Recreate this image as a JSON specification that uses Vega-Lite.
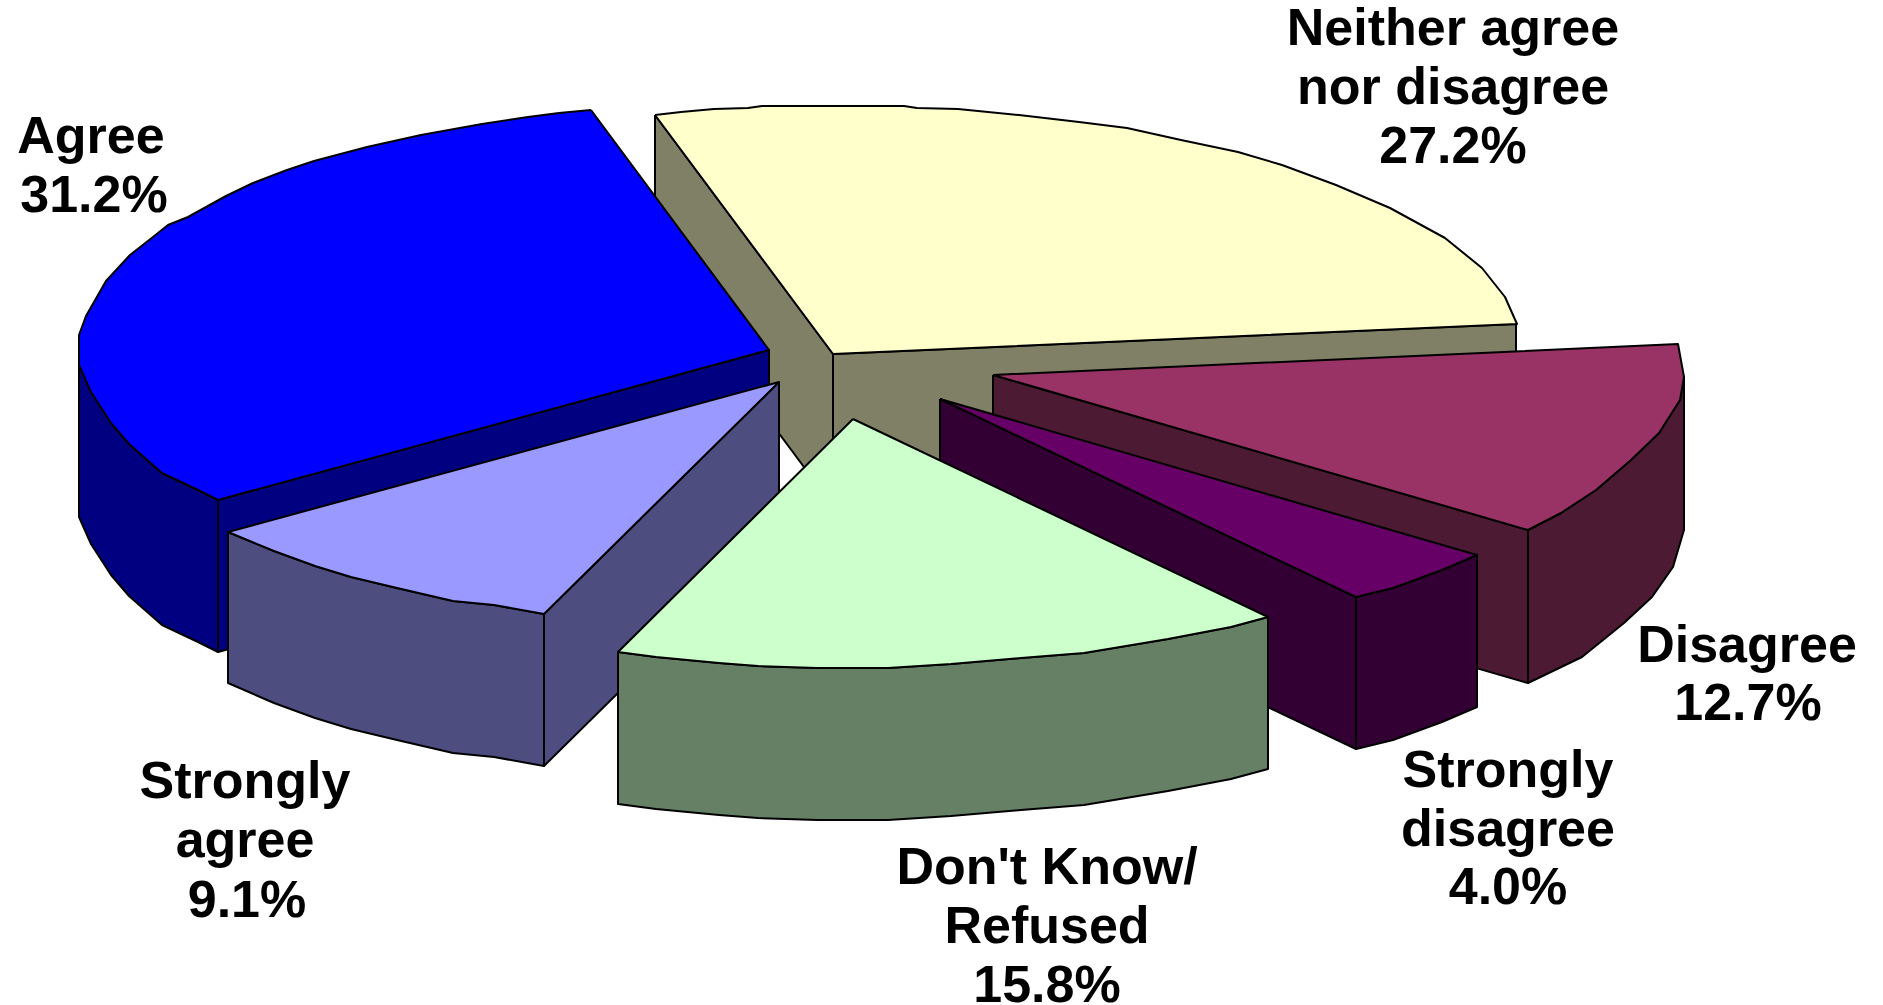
{"$schema":"https://vega.github.io/schema/vega-lite/v6.json","width":1883,"height":1005,"padding":0,"autosize":{"type":"none"},"background":"white","view":{"stroke":null},
"datasets":{"faces":[
{"f":"Neither left","i":0,"x":655,"y":115},{"f":"Neither left","i":1,"x":833,"y":354},{"f":"Neither left","i":2,"x":833,"y":506},{"f":"Neither left","i":3,"x":655,"y":267},{"f":"Neither left","i":4,"x":655,"y":115},
{"f":"Neither right","i":0,"x":833,"y":354},{"f":"Neither right","i":1,"x":1516,"y":324},{"f":"Neither right","i":2,"x":1516,"y":476},{"f":"Neither right","i":3,"x":833,"y":506},{"f":"Neither right","i":4,"x":833,"y":354},
{"f":"Neither top","i":0,"x":655,"y":115},{"f":"Neither top","i":1,"x":681,"y":112},{"f":"Neither top","i":2,"x":714,"y":109},{"f":"Neither top","i":3,"x":748,"y":108},{"f":"Neither top","i":4,"x":762,"y":106},{"f":"Neither top","i":5,"x":904,"y":106},{"f":"Neither top","i":6,"x":917,"y":108},{"f":"Neither top","i":7,"x":958,"y":109},{"f":"Neither top","i":8,"x":1019,"y":115},{"f":"Neither top","i":9,"x":1079,"y":122},{"f":"Neither top","i":10,"x":1127,"y":128},{"f":"Neither top","i":11,"x":1181,"y":140},{"f":"Neither top","i":12,"x":1238,"y":152},{"f":"Neither top","i":13,"x":1282,"y":165},{"f":"Neither top","i":14,"x":1336,"y":185},{"f":"Neither top","i":15,"x":1390,"y":208},{"f":"Neither top","i":16,"x":1445,"y":238},{"f":"Neither top","i":17,"x":1482,"y":268},{"f":"Neither top","i":18,"x":1505,"y":297},{"f":"Neither top","i":19,"x":1517,"y":324},{"f":"Neither top","i":20,"x":833,"y":354},{"f":"Neither top","i":21,"x":655,"y":115},
{"f":"Agree outer","i":0,"x":79,"y":345},{"f":"Agree outer","i":1,"x":79,"y":517},{"f":"Agree outer","i":2,"x":91,"y":544},{"f":"Agree outer","i":3,"x":111,"y":575},{"f":"Agree outer","i":4,"x":129,"y":596},{"f":"Agree outer","i":5,"x":162,"y":625},{"f":"Agree outer","i":6,"x":198,"y":642},{"f":"Agree outer","i":7,"x":218,"y":652},{"f":"Agree outer","i":8,"x":218,"y":500},{"f":"Agree outer","i":9,"x":198,"y":490},{"f":"Agree outer","i":10,"x":162,"y":473},{"f":"Agree outer","i":11,"x":129,"y":444},{"f":"Agree outer","i":12,"x":111,"y":423},{"f":"Agree outer","i":13,"x":91,"y":392},{"f":"Agree outer","i":14,"x":79,"y":345},
{"f":"Agree front","i":0,"x":218,"y":500},{"f":"Agree front","i":1,"x":769,"y":350},{"f":"Agree front","i":2,"x":769,"y":502},{"f":"Agree front","i":3,"x":218,"y":652},{"f":"Agree front","i":4,"x":218,"y":500},
{"f":"Agree top","i":0,"x":591,"y":110},{"f":"Agree top","i":1,"x":559,"y":113},{"f":"Agree top","i":2,"x":528,"y":117},{"f":"Agree top","i":3,"x":482,"y":124},{"f":"Agree top","i":4,"x":421,"y":135},{"f":"Agree top","i":5,"x":367,"y":147},{"f":"Agree top","i":6,"x":314,"y":161},{"f":"Agree top","i":7,"x":287,"y":170},{"f":"Agree top","i":8,"x":253,"y":183},{"f":"Agree top","i":9,"x":226,"y":196},{"f":"Agree top","i":10,"x":188,"y":217},{"f":"Agree top","i":11,"x":168,"y":225},{"f":"Agree top","i":12,"x":153,"y":237},{"f":"Agree top","i":13,"x":130,"y":255},{"f":"Agree top","i":14,"x":106,"y":281},{"f":"Agree top","i":15,"x":86,"y":316},{"f":"Agree top","i":16,"x":79,"y":335},{"f":"Agree top","i":17,"x":79,"y":365},{"f":"Agree top","i":18,"x":91,"y":392},{"f":"Agree top","i":19,"x":111,"y":423},{"f":"Agree top","i":20,"x":129,"y":444},{"f":"Agree top","i":21,"x":162,"y":473},{"f":"Agree top","i":22,"x":198,"y":490},{"f":"Agree top","i":23,"x":218,"y":500},{"f":"Agree top","i":24,"x":769,"y":350},{"f":"Agree top","i":25,"x":591,"y":110},
{"f":"Disagree front","i":0,"x":993,"y":375},{"f":"Disagree front","i":1,"x":1528,"y":530},{"f":"Disagree front","i":2,"x":1528,"y":683},{"f":"Disagree front","i":3,"x":993,"y":528},{"f":"Disagree front","i":4,"x":993,"y":375},
{"f":"Disagree outer","i":0,"x":1528,"y":530},{"f":"Disagree outer","i":1,"x":1561,"y":513},{"f":"Disagree outer","i":2,"x":1596,"y":490},{"f":"Disagree outer","i":3,"x":1631,"y":460},{"f":"Disagree outer","i":4,"x":1659,"y":433},{"f":"Disagree outer","i":5,"x":1680,"y":400},{"f":"Disagree outer","i":6,"x":1684,"y":377},{"f":"Disagree outer","i":7,"x":1684,"y":530},{"f":"Disagree outer","i":8,"x":1673,"y":567},{"f":"Disagree outer","i":9,"x":1652,"y":597},{"f":"Disagree outer","i":10,"x":1624,"y":623},{"f":"Disagree outer","i":11,"x":1582,"y":657},{"f":"Disagree outer","i":12,"x":1528,"y":683},{"f":"Disagree outer","i":13,"x":1528,"y":530},
{"f":"Disagree top","i":0,"x":993,"y":375},{"f":"Disagree top","i":1,"x":1678,"y":344},{"f":"Disagree top","i":2,"x":1684,"y":377},{"f":"Disagree top","i":3,"x":1680,"y":400},{"f":"Disagree top","i":4,"x":1659,"y":433},{"f":"Disagree top","i":5,"x":1631,"y":460},{"f":"Disagree top","i":6,"x":1596,"y":490},{"f":"Disagree top","i":7,"x":1561,"y":513},{"f":"Disagree top","i":8,"x":1528,"y":530},{"f":"Disagree top","i":9,"x":993,"y":375},
{"f":"Strongly agree right","i":0,"x":544,"y":614},{"f":"Strongly agree right","i":1,"x":779,"y":382},{"f":"Strongly agree right","i":2,"x":779,"y":534},{"f":"Strongly agree right","i":3,"x":544,"y":766},{"f":"Strongly agree right","i":4,"x":544,"y":614},
{"f":"Strongly agree outer","i":0,"x":228,"y":532},{"f":"Strongly agree outer","i":1,"x":274,"y":551},{"f":"Strongly agree outer","i":2,"x":315,"y":566},{"f":"Strongly agree outer","i":3,"x":351,"y":577},{"f":"Strongly agree outer","i":4,"x":397,"y":588},{"f":"Strongly agree outer","i":5,"x":453,"y":601},{"f":"Strongly agree outer","i":6,"x":494,"y":605},{"f":"Strongly agree outer","i":7,"x":544,"y":614},{"f":"Strongly agree outer","i":8,"x":544,"y":766},{"f":"Strongly agree outer","i":9,"x":494,"y":757},{"f":"Strongly agree outer","i":10,"x":453,"y":753},{"f":"Strongly agree outer","i":11,"x":397,"y":740},{"f":"Strongly agree outer","i":12,"x":351,"y":729},{"f":"Strongly agree outer","i":13,"x":315,"y":718},{"f":"Strongly agree outer","i":14,"x":274,"y":703},{"f":"Strongly agree outer","i":15,"x":228,"y":683},{"f":"Strongly agree outer","i":16,"x":228,"y":532},
{"f":"Strongly agree top","i":0,"x":779,"y":382},{"f":"Strongly agree top","i":1,"x":228,"y":532},{"f":"Strongly agree top","i":2,"x":274,"y":551},{"f":"Strongly agree top","i":3,"x":315,"y":566},{"f":"Strongly agree top","i":4,"x":351,"y":577},{"f":"Strongly agree top","i":5,"x":397,"y":588},{"f":"Strongly agree top","i":6,"x":453,"y":601},{"f":"Strongly agree top","i":7,"x":494,"y":605},{"f":"Strongly agree top","i":8,"x":544,"y":614},{"f":"Strongly agree top","i":9,"x":779,"y":382},
{"f":"Strongly disagree front","i":0,"x":940,"y":399},{"f":"Strongly disagree front","i":1,"x":1356,"y":597},{"f":"Strongly disagree front","i":2,"x":1356,"y":749},{"f":"Strongly disagree front","i":3,"x":940,"y":551},{"f":"Strongly disagree front","i":4,"x":940,"y":399},
{"f":"Strongly disagree outer","i":0,"x":1356,"y":597},{"f":"Strongly disagree outer","i":1,"x":1393,"y":588},{"f":"Strongly disagree outer","i":2,"x":1442,"y":570},{"f":"Strongly disagree outer","i":3,"x":1477,"y":555},{"f":"Strongly disagree outer","i":4,"x":1477,"y":707},{"f":"Strongly disagree outer","i":5,"x":1442,"y":722},{"f":"Strongly disagree outer","i":6,"x":1393,"y":740},{"f":"Strongly disagree outer","i":7,"x":1356,"y":749},{"f":"Strongly disagree outer","i":8,"x":1356,"y":597},
{"f":"Strongly disagree top","i":0,"x":940,"y":399},{"f":"Strongly disagree top","i":1,"x":1477,"y":555},{"f":"Strongly disagree top","i":2,"x":1442,"y":570},{"f":"Strongly disagree top","i":3,"x":1393,"y":588},{"f":"Strongly disagree top","i":4,"x":1356,"y":597},{"f":"Strongly disagree top","i":5,"x":940,"y":399},
{"f":"Refused outer","i":0,"x":618,"y":652},{"f":"Refused outer","i":1,"x":656,"y":657},{"f":"Refused outer","i":2,"x":719,"y":663},{"f":"Refused outer","i":3,"x":758,"y":666},{"f":"Refused outer","i":4,"x":817,"y":668},{"f":"Refused outer","i":5,"x":888,"y":668},{"f":"Refused outer","i":6,"x":951,"y":664},{"f":"Refused outer","i":7,"x":1021,"y":658},{"f":"Refused outer","i":8,"x":1084,"y":653},{"f":"Refused outer","i":9,"x":1168,"y":639},{"f":"Refused outer","i":10,"x":1231,"y":627},{"f":"Refused outer","i":11,"x":1268,"y":617},{"f":"Refused outer","i":12,"x":1268,"y":769},{"f":"Refused outer","i":13,"x":1231,"y":779},{"f":"Refused outer","i":14,"x":1168,"y":791},{"f":"Refused outer","i":15,"x":1084,"y":805},{"f":"Refused outer","i":16,"x":1021,"y":810},{"f":"Refused outer","i":17,"x":951,"y":816},{"f":"Refused outer","i":18,"x":888,"y":820},{"f":"Refused outer","i":19,"x":817,"y":820},{"f":"Refused outer","i":20,"x":758,"y":818},{"f":"Refused outer","i":21,"x":719,"y":815},{"f":"Refused outer","i":22,"x":656,"y":809},{"f":"Refused outer","i":23,"x":618,"y":804},{"f":"Refused outer","i":24,"x":618,"y":652},
{"f":"Refused top","i":0,"x":853,"y":419},{"f":"Refused top","i":1,"x":618,"y":652},{"f":"Refused top","i":2,"x":656,"y":657},{"f":"Refused top","i":3,"x":719,"y":663},{"f":"Refused top","i":4,"x":758,"y":666},{"f":"Refused top","i":5,"x":817,"y":668},{"f":"Refused top","i":6,"x":888,"y":668},{"f":"Refused top","i":7,"x":951,"y":664},{"f":"Refused top","i":8,"x":1021,"y":658},{"f":"Refused top","i":9,"x":1084,"y":653},{"f":"Refused top","i":10,"x":1168,"y":639},{"f":"Refused top","i":11,"x":1231,"y":627},{"f":"Refused top","i":12,"x":1268,"y":617},{"f":"Refused top","i":13,"x":853,"y":419}
],
"labels":[
{"label":"Neither agree","pct":27.2,"x":1453,"y":45},{"label":"nor disagree","pct":27.2,"x":1453,"y":104},{"label":"27.2%","pct":27.2,"x":1453,"y":163},
{"label":"Agree","pct":31.2,"x":91,"y":153},{"label":"31.2%","pct":31.2,"x":94,"y":212},
{"label":"Disagree","pct":12.7,"x":1747,"y":662},{"label":"12.7%","pct":12.7,"x":1748,"y":720},
{"label":"Strongly","pct":4.0,"x":1508,"y":787},{"label":"disagree","pct":4.0,"x":1508,"y":846},{"label":"4.0%","pct":4.0,"x":1508,"y":904},
{"label":"Don't Know/","pct":15.8,"x":1047,"y":884},{"label":"Refused","pct":15.8,"x":1047,"y":943},{"label":"15.8%","pct":15.8,"x":1047,"y":1002},
{"label":"Strongly","pct":9.1,"x":245,"y":798},{"label":"agree","pct":9.1,"x":245,"y":857},{"label":"9.1%","pct":9.1,"x":247,"y":917}
]},
"layer":[
{"data":{"name":"faces"},"mark":{"type":"line","stroke":"#000000","strokeWidth":2,"strokeJoin":"round"},
"encoding":{"x":{"field":"x","type":"quantitative","scale":{"domain":[0,1883],"nice":false,"zero":false},"axis":null},"y":{"field":"y","type":"quantitative","scale":{"domain":[1005,0],"nice":false,"zero":false},"axis":null},"order":{"field":"i","type":"quantitative"},
"fill":{"field":"f","type":"nominal","legend":null,"scale":{"domain":["Neither left","Neither right","Neither top","Agree outer","Agree front","Agree top","Disagree front","Disagree outer","Disagree top","Strongly agree right","Strongly agree outer","Strongly agree top","Strongly disagree front","Strongly disagree outer","Strongly disagree top","Refused outer","Refused top"],"range":["#808066","#808066","#FFFFCC","#000080","#000080","#0000FF","#4D1A33","#4D1A33","#993366","#4D4D80","#4D4D80","#9999FF","#330033","#330033","#660066","#668066","#CCFFCC"]}}}},
{"data":{"name":"labels"},"mark":{"type":"text","font":"Liberation Sans","fontWeight":"bold","fontSize":52,"align":"center","baseline":"alphabetic","color":"#000000"},
"encoding":{"x":{"field":"x","type":"quantitative"},"y":{"field":"y","type":"quantitative"},"text":{"field":"label","type":"nominal"}}}
]}
